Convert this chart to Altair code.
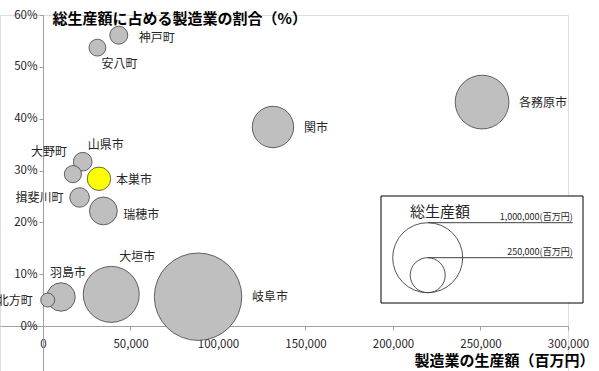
import altair as alt
import pandas as pd

# ---------------- data ----------------
cities = ["岐阜市", "大垣市", "各務原市", "関市", "羽島市", "瑞穂市", "本巣市",
          "揖斐川町", "山県市", "大野町", "安八町", "神戸町", "北方町"]
manufacturing = [88600, 39000, 250900, 131400, 10300, 34500, 32000,
                 20900, 22700, 17100, 31100, 43300, 2700]          # 百万円
share_pct = [5.65, 6.1, 43.2, 38.4, 5.6, 22.2, 28.4,
             24.8, 31.7, 29.3, 53.7, 56.1, 5.0]                    # %
gross = [1560000, 640000, 590000, 350000, 165000, 158000, 112000,
         78000, 71000, 60000, 58000, 66000, 40000]                 # 百万円
highlight = "本巣市"

legend_values = [1000000, 250000]
legend_labels = ["1,000,000(百万円)", "250,000(百万円)"]

x_ticks = [0, 50000, 100000, 150000, 200000, 250000, 300000]
y_ticks = [0, 10, 20, 30, 40, 50, 60]

# ---------------- style ----------------
FONT = "Noto Sans CJK JP"
AXIS_COL = "#a0a0a0"
TXT_COL = "#262626"
W, H = 568, 356
SIZE_DMAX, SIZE_RMAX = 2000000, 9800   # area-proportional bubbles

# label offsets (pixels from bubble centre, text centred)
LABEL_OFFSETS = {
    "神戸町": (38, 3), "安八町": (22, 16), "山県市": (23, -17), "大野町": (-24, -22),
    "本巣市": (35, 1), "揖斐川町": (-40, 1), "瑞穂市": (38, 4), "北方町": (-33, 1),
    "羽島市": (7, -24), "大垣市": (26, -37), "岐阜市": (72, 0), "関市": (43, 1),
    "各務原市": (61, 1),
}

df = pd.DataFrame({
    "city": cities, "mfg": manufacturing, "share": share_pct, "gross": gross,
    "hl": ["yes" if c == highlight else "no" for c in cities],
})

size_scale = alt.Scale(type="linear", domain=[0, SIZE_DMAX], range=[0, SIZE_RMAX])

x_enc = alt.X("mfg:Q",
              scale=alt.Scale(domain=[-24571, 300000], nice=False, zero=False),
              axis=alt.Axis(values=x_ticks, format=",.0f", offset=-45, grid=False,
                            domainColor=AXIS_COL, tickColor=AXIS_COL, tickSize=4,
                            labelPadding=8, labelFontSize=11.5, labelFont=FONT,
                            labelColor=TXT_COL, labelFlush=False, labelOverlap=False,
                            title="製造業の生産額（百万円）", titleFont=FONT,
                            titleFontSize=15, titleFontWeight="bold", titleColor="#000",
                            titleAlign="right", titleBaseline="middle",
                            titleX=594, titleY=34))
y_enc = alt.Y("share:Q",
              scale=alt.Scale(domain=[-8.68, 60], nice=False, zero=False),
              axis=alt.Axis(values=y_ticks, labelExpr="datum.value + '%'", offset=-43,
                            grid=False, domainColor=AXIS_COL, tickColor=AXIS_COL,
                            tickSize=4, labelPadding=2, labelFontSize=11.5,
                            labelFont=FONT, labelColor=TXT_COL, labelFlush=False,
                            labelOverlap=False,
                            title="総生産額に占める製造業の割合（%）", titleFont=FONT,
                            titleFontSize=15, titleFontWeight="bold", titleColor="#000",
                            titleAngle=0, titleAlign="left", titleBaseline="middle",
                            titleX=9, titleY=3))

bubbles = alt.Chart(df).mark_circle(opacity=1, stroke="#404040", strokeWidth=0.8).encode(
    x=x_enc, y=y_enc,
    size=alt.Size("gross:Q", scale=size_scale, legend=None),
    color=alt.Color("hl:N", scale=alt.Scale(domain=["yes", "no"],
                                            range=["#FFFF00", "#BFBFBF"]), legend=None),
    order=alt.Order("gross:Q", sort="descending"),
)

layers = [bubbles]
for c in cities:
    dx, dy = LABEL_OFFSETS[c]
    layers.append(
        alt.Chart(df).transform_filter(alt.datum.city == c).mark_text(
            dx=dx, dy=dy, align="center", baseline="middle", font=FONT,
            fontSize=12, color=TXT_COL
        ).encode(x="mfg:Q", y="share:Q", text="city:N")
    )

# ---------------- custom size legend ----------------
LEG_X1, LEG_X2, LEG_Y1, LEG_Y2 = 381, 583, 181, 288
LEG_CX, LEG_BOTTOM, LEG_LINE_END = 427.7, 277.7, 572.7

box = alt.Chart(pd.DataFrame({"k": [0]})).mark_rect(
    fill="white", stroke="#000", strokeWidth=1).encode(
    x=alt.value(LEG_X1), x2=alt.value(LEG_X2), y=alt.value(LEG_Y1), y2=alt.value(LEG_Y2))
layers.append(box)
layers.append(
    alt.Chart(pd.DataFrame({"t": ["総生産額"]})).mark_text(
        font=FONT, fontSize=15, color=TXT_COL, align="center", baseline="middle"
    ).encode(x=alt.value(440), y=alt.value(197), text="t:N"))

for v, lab in zip(legend_values, legend_labels):
    r = (v / SIZE_DMAX * SIZE_RMAX) ** 0.5 / 2
    cy = LEG_BOTTOM - r
    top = LEG_BOTTOM - 2 * r
    ldf = pd.DataFrame({"v": [v], "lab": [lab]})
    layers.append(alt.Chart(ldf).mark_point(
        shape="circle", filled=False, stroke="#404040", strokeWidth=0.9, opacity=1
    ).encode(x=alt.value(LEG_CX), y=alt.value(cy),
             size=alt.Size("v:Q", scale=size_scale, legend=None)))
    layers.append(alt.Chart(ldf).mark_rule(color="#404040", strokeWidth=1).encode(
        x=alt.value(LEG_CX), x2=alt.value(LEG_LINE_END), y=alt.value(top)))
    layers.append(alt.Chart(ldf).mark_text(
        font=FONT, fontSize=9, color=TXT_COL, align="right", baseline="middle"
    ).encode(x=alt.value(LEG_LINE_END), y=alt.value(top - 6), text="lab:N"))

chart = alt.layer(*layers).properties(
    width=W, height=H,
    autosize=alt.AutoSizeParams(type="none"),
    padding={"left": 0, "top": 15, "right": 31, "bottom": 0},
).configure_view(stroke=None).configure(background="white")

chart.save("out.html", embed_options={"renderer": "svg", "actions": False})
